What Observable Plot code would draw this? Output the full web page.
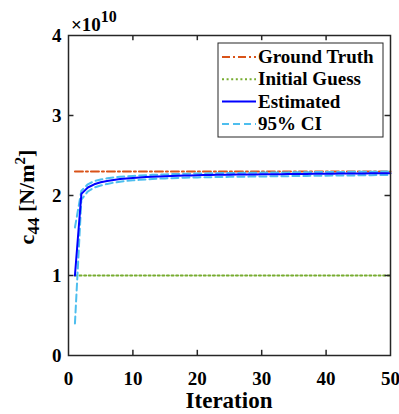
<!DOCTYPE html>
<html><head><meta charset="utf-8">
<script src="https://cdn.jsdelivr.net/npm/d3@7"></script>
<script src="https://cdn.jsdelivr.net/npm/@observablehq/plot@0.6"></script>
<style>body{margin:0;background:#fff}</style>
</head><body><div id="chart"></div>
<script>
// values in units of 1e10 N/m^2
const iterations = d3.range(1, 51);
const groundTruth = 2.3;
const initialGuess = 1.0;
const estimated = [1.00,2.02,2.10,2.14,2.165,2.18,2.195,2.205,2.213,2.22,
  2.225,2.23,2.235,2.238,2.241,2.244,2.247,2.249,2.251,2.253,
  2.255,2.256,2.258,2.259,2.26,2.261,2.262,2.263,2.264,2.265,
  2.266,2.267,2.267,2.268,2.269,2.27,2.27,2.271,2.272,2.272,
  2.273,2.274,2.274,2.275,2.275,2.276,2.277,2.277,2.278,2.278];
const ciUpper = [1.60,2.06,2.14,2.18,2.20,2.215,2.225,2.235,2.24,2.245,
  2.25,2.254,2.258,2.261,2.264,2.267,2.269,2.271,2.273,2.275,
  2.276,2.277,2.279,2.28,2.281,2.282,2.283,2.284,2.285,2.286,
  2.287,2.288,2.288,2.289,2.29,2.291,2.291,2.292,2.293,2.293,
  2.294,2.295,2.295,2.296,2.296,2.297,2.298,2.298,2.299,2.299];
const ciLower = [0.40,1.95,2.05,2.10,2.125,2.145,2.16,2.172,2.182,2.19,
  2.196,2.201,2.206,2.21,2.214,2.217,2.22,2.222,2.224,2.226,
  2.228,2.229,2.231,2.232,2.233,2.234,2.235,2.236,2.237,2.238,
  2.239,2.24,2.241,2.242,2.243,2.244,2.245,2.246,2.247,2.248,
  2.249,2.25,2.251,2.251,2.252,2.253,2.254,2.255,2.256,2.257];
const xTicks = [0,10,20,30,40,50];
const yTicks = [0,1,2,3,4];
const series = [
  {name:"Ground Truth", color:"#D95319", dash:"8,3,2,3", width:2},
  {name:"Initial Guess", color:"#77AC30", dash:"2,2.6", width:2},
  {name:"Estimated", color:"#0000FF", dash:null, width:2},
  {name:"95% CI", color:"#4DBEEE", dash:"7,4", width:2}
];

const rows = iterations.map((it,i)=>({it, gt:groundTruth, ig:initialGuess, est:estimated[i], up:ciUpper[i], lo:ciLower[i]}));
const font = "'Liberation Serif', 'Times New Roman', serif";
const axisColor = "#262626";

const chart = Plot.plot({
  width:399, height:414,
  marginLeft:68, marginRight:9, marginTop:35, marginBottom:59,
  style:{fontFamily:font, fontWeight:"bold", fontSize:"18px", color:"#000", background:"#fff"},
  x:{domain:[0,50]},
  y:{domain:[0,4]},
  marks:[
    Plot.line(rows,{x:"it", y:"gt", stroke:series[0].color, strokeWidth:2, strokeDasharray:series[0].dash}),
    Plot.line(rows,{x:"it", y:"ig", stroke:series[1].color, strokeWidth:2, strokeDasharray:series[1].dash}),
    Plot.line(rows,{x:"it", y:"up", stroke:series[3].color, strokeWidth:2, strokeDasharray:series[3].dash}),
    Plot.line(rows,{x:"it", y:"lo", stroke:series[3].color, strokeWidth:2, strokeDasharray:series[3].dash}),
    Plot.line(rows,{x:"it", y:"est", stroke:series[2].color, strokeWidth:2}),
    Plot.ruleX(xTicks.slice(1,-1),{x:d=>d, y1:0, y2:0.065, stroke:axisColor, strokeWidth:1.5}),
    Plot.ruleX(xTicks.slice(1,-1),{x:d=>d, y1:4, y2:3.935, stroke:axisColor, strokeWidth:1.5}),
    Plot.ruleY(yTicks.slice(1,-1),{y:d=>d, x1:0, x2:0.85, stroke:axisColor, strokeWidth:1.5}),
    Plot.ruleY(yTicks.slice(1,-1),{y:d=>d, x1:50, x2:49.15, stroke:axisColor, strokeWidth:1.5}),
    Plot.frame({stroke:axisColor, strokeWidth:1.5}),
    Plot.axisX(xTicks,{tickSize:0, tickPadding:16, label:null, fontSize:19, tickFormat:d3.format("d")}),
    Plot.axisY(yTicks,{tickSize:0, tickPadding:7, label:null, fontSize:19, tickFormat:d3.format("d")}),
  ]
});
document.getElementById("chart").appendChild(chart);

const svg = d3.select(chart);
// x label
svg.append("text").attr("x",229).attr("y",408).attr("text-anchor","middle")
  .attr("font-family",font).attr("font-weight","bold").attr("font-size",23).text("Iteration");
// y label
const yl = svg.append("text").attr("transform","translate(34,197) rotate(-90)").attr("text-anchor","middle")
  .attr("font-family",font).attr("font-weight","bold").attr("font-size",22);
yl.append("tspan").text("c");
yl.append("tspan").attr("dy",5).attr("font-size",17).text("44");
yl.append("tspan").attr("dy",-5).text(" [N/m");
yl.append("tspan").attr("dy",-9).attr("font-size",15).text("2");
yl.append("tspan").attr("dy",9).text("]");
// exponent
const ex = svg.append("text").attr("x",71).attr("y",31).attr("text-anchor","start")
  .attr("font-family",font).attr("font-weight","bold").attr("font-size",19);
ex.append("tspan").text("×10");
ex.append("tspan").attr("dy",-9).attr("font-size",16).text("10");
// legend
const lg = svg.append("g");
lg.append("rect").attr("x",218).attr("y",43).attr("width",165).attr("height",94)
  .attr("fill","#fff").attr("stroke","#262626").attr("stroke-width",1);
series.forEach((s,i)=>{
  const cy = 57 + i*22.3;
  const ln = lg.append("line").attr("x1",222).attr("x2",256).attr("y1",cy).attr("y2",cy)
    .attr("stroke",s.color).attr("stroke-width",s.width);
  if (s.dash) ln.attr("stroke-dasharray",s.dash);
  lg.append("text").attr("x",258).attr("y",cy+6).attr("text-anchor","start").attr("font-family",font).attr("font-weight","bold")
    .attr("font-size",19).text(s.name);
});
</script></body></html>
